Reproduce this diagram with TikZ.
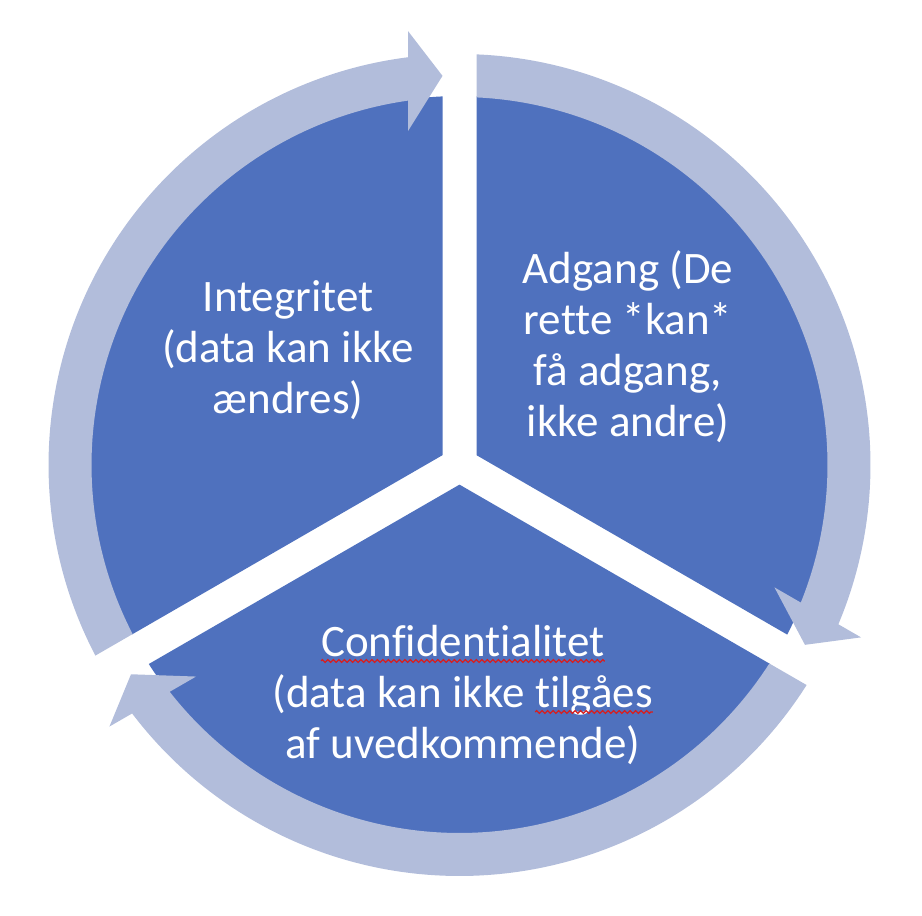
\documentclass[tikz,border=0pt]{standalone}
\usepackage{fontspec}
\setmainfont{Carlito}[Ligatures={NoCommon}]
\usetikzlibrary{calc,decorations.pathmorphing}
\definecolor{sectorblue}{RGB}{79,113,190}
\definecolor{ringblue}{RGB}{178,189,219}
\definecolor{spellred}{RGB}{215,30,30}
\newcommand\spellmark[1]{\tikz[baseline=(sw.base)]{\node[inner sep=0pt,outer sep=0pt](sw){#1};\draw[spellred,line width=1.2pt,decorate,decoration={zigzag,segment length=5.5pt,amplitude=1.4pt}]([yshift=-4.5pt]sw.base west)--([yshift=-4.5pt]sw.base east);}}
\tikzset{
  lbl/.style={text=white,align=center,inner sep=0pt,font=\fontsize{45}{51}\selectfont},
  sector/.style={fill=sectorblue},
  ringarrow/.style={fill=ringblue}
}
\begin{document}
\begin{tikzpicture}[x=1pt,y=1pt]
\useasboundingbox (0,0) rectangle (922,916);
\coordinate (C) at (459.5,451);
% pie sectors
\foreach \g in {90,-30,210}{
  \begin{scope}[shift={(C)},rotate=\g]
    \path[sector] (60:19.63) -- (2.64:369) arc[start angle=2.64,end angle=117.36,radius=369] -- cycle;
  \end{scope}
}
% ring arrows
\foreach \g in {90,-30,210}{
  \begin{scope}[shift={(C)},rotate=\g]
    \path[ringarrow] (2.502:389.5) -- (6.767:437) -- (7.198:411)
      arc[start angle=7.198,end angle=117.629,radius=411]
      -- (117.352:368)
      arc[start angle=117.352,end angle=8.046,radius=368]
      -- (8.766:337.9) -- cycle;
  \end{scope}
}
\node[lbl] (integ) at (288,566) {Integritet\\(data kan ikke\\ændres)};
\node[lbl] (adg) at (628,569) {Adgang (De\\rette *kan*\\få adgang,\\ikke andre)};
\node[lbl] (conf) at (463,221) {\spellmark{Confidentialitet}\\(data kan ikke \spellmark{tilgåes}\\af uvedkommende)};
\end{tikzpicture}
\end{document}
